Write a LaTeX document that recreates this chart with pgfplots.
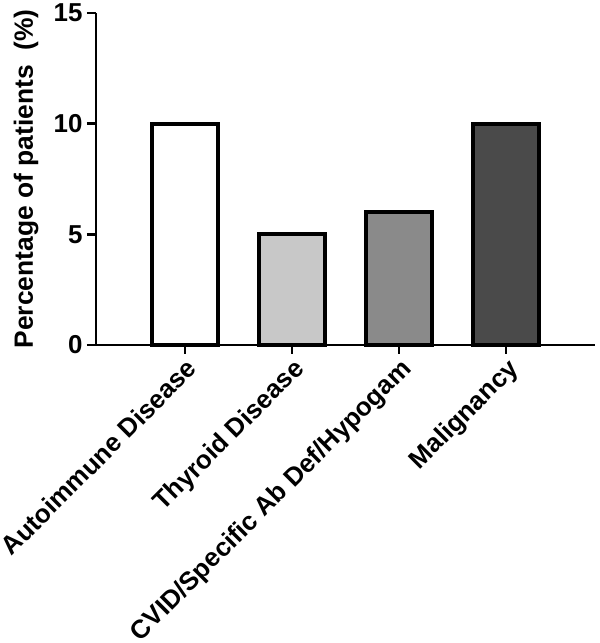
\documentclass[border=0pt]{standalone}
\usepackage{fontspec}
\setmainfont{Liberation Sans}
\usepackage{pgfplots}
\pgfplotsset{compat=1.18}
\definecolor{barA}{HTML}{FFFFFF}
\definecolor{barB}{HTML}{C8C8C8}
\definecolor{barC}{HTML}{8A8A8A}
\definecolor{barD}{HTML}{4A4A4A}
\begin{document}
\begin{tikzpicture}[x=1bp,y=1bp]
\begin{axis}[
  at={(96bp,298bp)}, anchor=south west,
  width=499bp, height=332bp, scale only axis,
  xmin=-0.83, xmax=3.83, ymin=0, ymax=15,
  axis lines*=left,
  axis line style={line width=2.7bp, black},
  ytick={0,5,10,15},
  xtick={0,1,2,3},
  xticklabels={Autoimmune Disease, Thyroid Disease, CVID/Specific Ab Def/Hypogam, Malignancy},
  tick style={line width=2.5bp, black},
  major tick length=9bp, tick align=outside,
  /pgf/number format/assume math mode=true,
  yticklabel style={font=\bfseries\fontsize{26}{30}\selectfont, xshift=-1bp},
  xticklabel style={rotate=45, anchor=north east, font=\bfseries\fontsize{26}{30}\selectfont, inner sep=2bp},
  ylabel={Percentage of patients\ \ (\%)},
  ylabel style={font=\bfseries\fontsize{26.5}{30}\selectfont, at={(axis description cs:-0.1403,0.5)}, anchor=center},
  ybar, bar width=66bp,
  every axis plot/.append style={bar shift=0pt, line width=4.3bp, draw=black},
  clip=false,
]
\addplot[fill=barA] coordinates {(0,10)};
\addplot[fill=barB] coordinates {(1,5)};
\addplot[fill=barC] coordinates {(2,6)};
\addplot[fill=barD] coordinates {(3,10)};
\end{axis}
\pgfresetboundingbox
\path (0,0) rectangle (600,643);
\end{tikzpicture}
\end{document}
